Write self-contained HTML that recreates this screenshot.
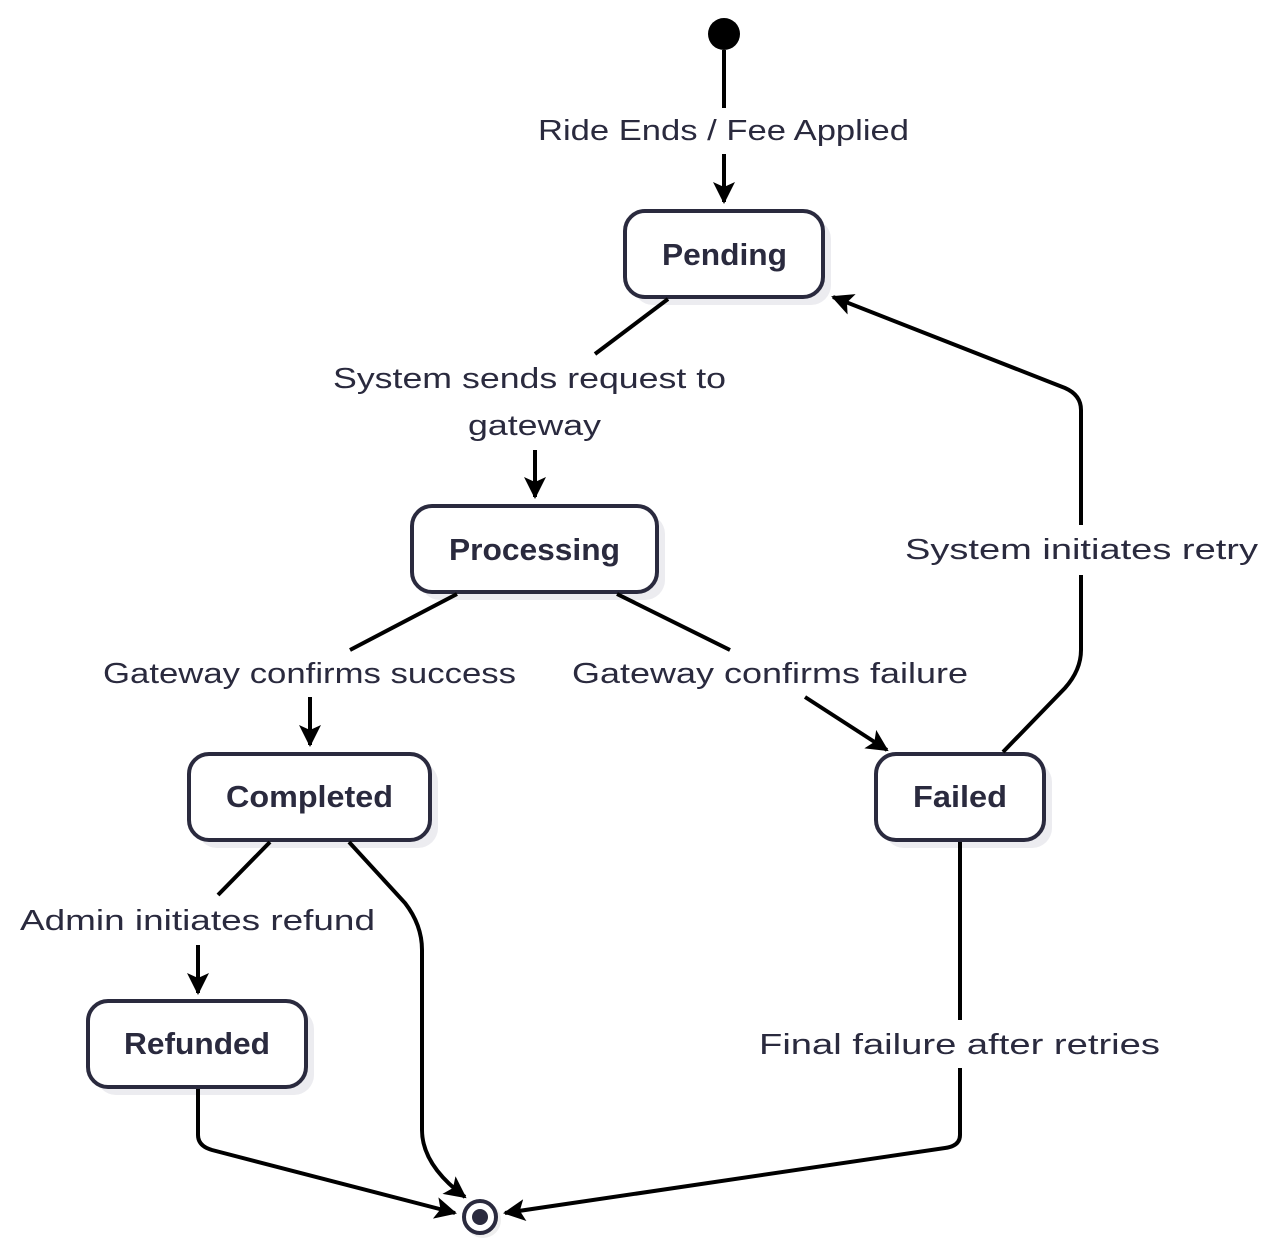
<!DOCTYPE html>
<html><head><style>
html,body{margin:0;padding:0;background:#fff;}
svg{display:block;}
text{font-family:"Liberation Sans",sans-serif;fill:#2a2a3e;}
.lbl{font-size:29px;}
.nd{font-size:31px;font-weight:bold;}
</style></head><body>
<svg width="1280" height="1254" viewBox="0 0 1280 1254" xmlns="http://www.w3.org/2000/svg">
<defs>
<marker id="a2" markerWidth="22" markerHeight="22" refX="20" refY="11" orient="auto" markerUnits="userSpaceOnUse">
<path d="M0,0 L22,11 L0,22 L5,11 z" fill="#000"/>
</marker>
</defs>
<g>
<rect x="633" y="219" width="198" height="86" rx="20" fill="#ececf0"/>
<rect x="625" y="211" width="198" height="86" rx="20" fill="#fff" stroke="#2a2a3e" stroke-width="4"/>
<text class="nd" x="662" y="265" textLength="125" lengthAdjust="spacingAndGlyphs">Pending</text>
<rect x="420" y="514" width="245" height="86" rx="20" fill="#ececf0"/>
<rect x="412" y="506" width="245" height="86" rx="20" fill="#fff" stroke="#2a2a3e" stroke-width="4"/>
<text class="nd" x="449" y="560" textLength="171" lengthAdjust="spacingAndGlyphs">Processing</text>
<rect x="197" y="762" width="241" height="86" rx="20" fill="#ececf0"/>
<rect x="189" y="754" width="241" height="86" rx="20" fill="#fff" stroke="#2a2a3e" stroke-width="4"/>
<text class="nd" x="226" y="807" textLength="167" lengthAdjust="spacingAndGlyphs">Completed</text>
<rect x="884" y="762" width="168" height="86" rx="20" fill="#ececf0"/>
<rect x="876" y="754" width="168" height="86" rx="20" fill="#fff" stroke="#2a2a3e" stroke-width="4"/>
<text class="nd" x="913" y="807" textLength="94" lengthAdjust="spacingAndGlyphs">Failed</text>
<rect x="96" y="1009" width="218" height="86" rx="20" fill="#ececf0"/>
<rect x="88" y="1001" width="218" height="86" rx="20" fill="#fff" stroke="#2a2a3e" stroke-width="4"/>
<text class="nd" x="124" y="1054" textLength="146" lengthAdjust="spacingAndGlyphs">Refunded</text>
</g>
<g fill="none" stroke="#000" stroke-width="4">
<path d="M724,50 V202" marker-end="url(#a2)"/>
<path d="M668,299 L595,354"/>
<path d="M535,450 V497" marker-end="url(#a2)"/>
<path d="M457,594 L350,650"/>
<path d="M310,697 V745" marker-end="url(#a2)"/>
<path d="M617,594 L730,650"/>
<path d="M805,697 L887,750" marker-end="url(#a2)"/>
<path d="M1003,752 L1065,688 Q1081,670 1081,650 V575"/>
<path d="M1081,525 V410 Q1081,395 1065,388 L833,297" marker-end="url(#a2)"/>
<path d="M270,842 L218,895"/>
<path d="M198,945 V993" marker-end="url(#a2)"/>
<path d="M349,842 L405,903 Q422,925 422,950 V1130 Q422,1165 465,1197" marker-end="url(#a2)"/>
<path d="M198,1089 V1135 Q198,1146 212,1150 L455,1213" marker-end="url(#a2)"/>
<path d="M960,842 V1020"/>
<path d="M960,1068 V1135 Q960,1146 945,1148 L505,1213" marker-end="url(#a2)"/>
</g>
<circle cx="724" cy="34" r="16" fill="#000"/>
<circle cx="483" cy="1220" r="18" fill="#eee"/>
<circle cx="480" cy="1217" r="16" fill="#fff" stroke="#2a2a3e" stroke-width="4"/>
<circle cx="480" cy="1217" r="8" fill="#2a2a3e"/>
<g class="lbl">
<rect x="530" y="108" width="388" height="46" fill="#fff"/>
<text class="lbl" x="538" y="140" textLength="371" lengthAdjust="spacingAndGlyphs">Ride Ends / Fee Applied</text>
<text class="lbl" x="333" y="388" textLength="393" lengthAdjust="spacingAndGlyphs">System sends request to</text>
<text class="lbl" x="468" y="435" textLength="133" lengthAdjust="spacingAndGlyphs">gateway</text>
<text class="lbl" x="103" y="683" textLength="413" lengthAdjust="spacingAndGlyphs">Gateway confirms success</text>
<text class="lbl" x="572" y="683" textLength="396" lengthAdjust="spacingAndGlyphs">Gateway confirms failure</text>
<text class="lbl" x="905" y="559" textLength="353" lengthAdjust="spacingAndGlyphs">System initiates retry</text>
<text class="lbl" x="20" y="930" textLength="355" lengthAdjust="spacingAndGlyphs">Admin initiates refund</text>
<text class="lbl" x="759" y="1054" textLength="401" lengthAdjust="spacingAndGlyphs">Final failure after retries</text>
</g>
</svg>
</body></html>
